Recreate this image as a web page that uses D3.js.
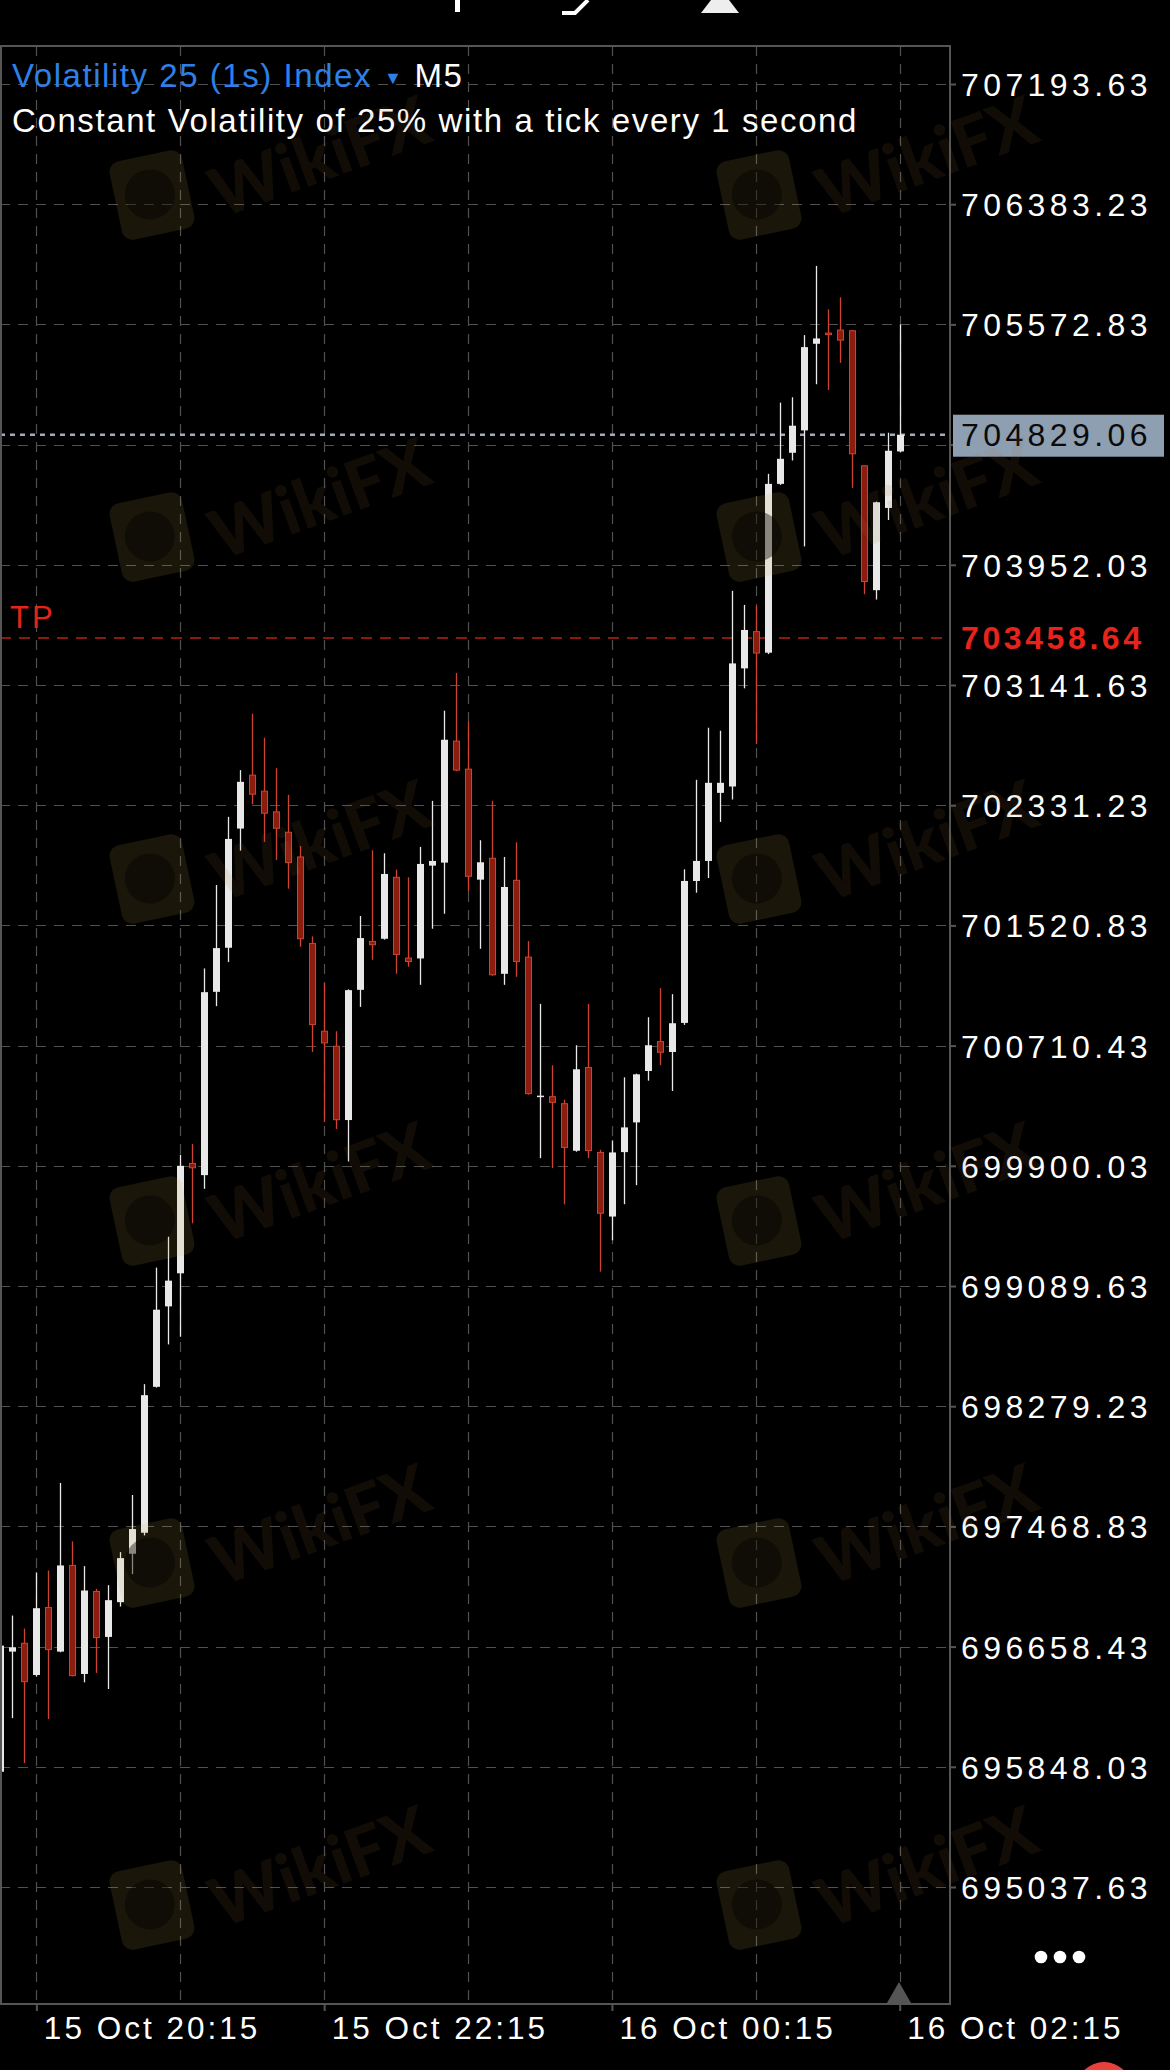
<!DOCTYPE html>
<html>
<head>
<meta charset="utf-8">
<script src="https://cdn.jsdelivr.net/npm/d3@7"></script>
<style>
  html, body { margin: 0; padding: 0; background: #000; }
  svg { display: block; }
</style>
</head>
<body>
<svg id="chart"></svg>
<script>
// M5 candles, first one at 15 Oct 20:00
const opens = [
  695814.4, 696624.7, 696681.0, 696467.1, 696921.8, 696624.7, 697205.5, 696473.9, 697029.9, 696723.8,
  696957.9, 697284.3, 697426.1, 698409.8, 698952.3, 699175.2, 699915.8, 699837.1, 701072.9, 701370.1,
  702173.7, 702533.8, 702425.8, 702286.2, 702148.9, 701982.3, 701399.3, 700807.3, 700706.0, 700208.5,
  701086.4, 701412.8, 701430.8, 701845.0, 701300.3, 701298.0, 701923.8, 701944.1, 702763.4, 702574.3,
  701829.3, 701973.3, 701194.5, 701824.8, 701307.0, 700366.1, 700366.1, 700318.8, 700001.5, 700563.0,
  699990.1, 699557.9, 699992.3, 700192.7, 700539.3, 700737.4, 700667.6, 700863.5, 701820.3, 701955.3,
  702414.5, 702457.3, 703253.8, 703501.4, 703359.4, 704497.6, 704707.3, 704858.3, 705442.1, 705514.2,
  705534.5, 705530.0, 704619.4, 703780.9, 704335.4, 704716.3
];
const highs = [
  696680.0, 696867.8, 696780.0, 697158.2, 697171.7, 697761.5, 697367.5, 697201.0, 697047.9, 697072.7,
  697295.5, 697680.4, 698427.8, 699213.4, 699422.8, 699974.3, 700046.3, 701230.5, 701793.3, 702252.5,
  702567.6, 702948.0, 702785.9, 702581.1, 702401.0, 702056.6, 701446.6, 701133.7, 700807.3, 701090.0,
  701583.9, 702027.4, 702007.1, 701896.8, 701845.0, 702049.9, 702360.5, 702968.3, 703222.6, 702894.0,
  702094.9, 702360.5, 701982.3, 702081.4, 701415.1, 700991.9, 700577.7, 700345.9, 700712.8, 700991.8,
  700008.1, 700071.1, 700496.6, 700521.0, 700901.8, 701097.6, 701057.1, 701899.0, 702502.3, 702853.5,
  702833.2, 703776.4, 703681.7, 703674.9, 704565.3, 705045.4, 705081.4, 705500.7, 705967.3, 705674.2,
  705755.4, 705535.0, 704622.0, 704378.0, 704842.5, 705572.8
];
const lows = [
  695800.0, 696176.8, 695872.9, 696455.9, 696170.0, 696620.0, 696458.0, 696417.6, 696480.7, 696372.6,
  696928.6, 697146.9, 697408.1, 698405.0, 698695.7, 698747.5, 699512.8, 699744.8, 700976.1, 701273.3,
  702025.1, 702338.0, 702083.6, 701962.1, 701768.5, 701376.8, 700667.8, 700195.0, 700147.8, 699929.4,
  700971.6, 701289.0, 701425.0, 701194.5, 701241.8, 701120.2, 701498.4, 701599.7, 702560.0, 701748.2,
  701363.3, 701181.0, 701120.2, 701174.2, 700380.0, 699951.9, 699884.4, 699640.0, 699995.0, 699951.8,
  699186.5, 699398.1, 699641.2, 699769.5, 700474.1, 700579.8, 700404.3, 700850.0, 701741.5, 701840.5,
  702218.7, 702369.5, 703119.1, 702743.2, 703350.0, 704490.9, 704655.4, 704076.1, 705169.3, 705131.0,
  705313.6, 704470.6, 703753.8, 703717.8, 704254.2, 704709.5
];
const closes = [
  696665.2, 696654.0, 696422.1, 696917.3, 696638.2, 697205.5, 696462.6, 697036.6, 696719.3, 696971.4,
  697255.0, 697450.8, 698353.6, 698929.8, 699125.7, 699900.0, 699886.5, 701070.7, 701367.8, 702103.9,
  702488.8, 702405.5, 702277.2, 702175.9, 701944.1, 701430.8, 700852.3, 700728.5, 700210.8, 701084.2,
  701435.3, 701390.3, 701867.5, 701325.0, 701277.8, 701935.1, 701955.3, 702772.4, 702567.6, 701851.8,
  701946.3, 701187.7, 701779.7, 701277.8, 700386.4, 700372.9, 700327.8, 700024.0, 700550.7, 700002.5,
  699580.4, 699990.1, 700158.9, 700516.8, 700712.7, 700665.4, 700861.2, 701820.3, 701955.3, 702482.1,
  702482.1, 703287.2, 703512.6, 703357.1, 704497.6, 704666.7, 704889.8, 705419.5, 705478.1, 705509.7,
  705466.9, 704700.5, 703839.5, 704373.7, 704720.8, 704829.06
];

const priceTicks = [
  707193.63, 706383.23, 705572.83, 704762.43, 703952.03, 703141.63, 702331.23, 701520.83,
  700710.43, 699900.03, 699089.63, 698279.23, 697468.83, 696658.43, 695848.03, 695037.63
];
const gridTimes = [
  "2023-10-15T20:15", "2023-10-15T21:15", "2023-10-15T22:15", "2023-10-15T23:15",
  "2023-10-16T00:15", "2023-10-16T01:15", "2023-10-16T02:15"
];
const labelTimes = ["2023-10-15T20:15", "2023-10-15T22:15", "2023-10-16T00:15", "2023-10-16T02:15"];
const timeTickLabels = ["15 Oct 20:15", "15 Oct 22:15", "16 Oct 00:15", "16 Oct 02:15"];

const symbolName = "Volatility 25 (1s) Index";
const timeframe = "M5";
const description = "Constant Volatility of 25% with a tick every 1 second";
const lastPrice = 704829.06;
const tpPrice = 703458.64;

// Layout
const width = 1170;
const height = 2070;
const plot = { left: 0, top: 46, right: 950, bottom: 2004 };
const labelFont = "'Liberation Sans', Arial, sans-serif";

const parseTime = d3.timeParse("%Y-%m-%dT%H:%M");
const startTime = parseTime("2023-10-15T20:00");

const candles = opens.map((o, i) => ({
  t: d3.timeMinute.offset(startTime, 5 * i),
  o: o,
  h: highs[i],
  l: lows[i],
  c: closes[i],
}));

const svg = d3
  .select("#chart")
  .attr("width", width)
  .attr("height", height)
  .style("background", "#000");

svg.append("rect").attr("width", width).attr("height", height).attr("fill", "#000");

const x = d3
  .scaleTime()
  .domain([candles[0].t, candles[candles.length - 1].t])
  .range([0.4, 899.7]);

const y = d3.scaleLinear().domain([695037.63, 707193.63]).range([1887, 84]);

svg
  .append("clipPath")
  .attr("id", "plot-clip")
  .append("rect")
  .attr("x", plot.left)
  .attr("y", plot.top)
  .attr("width", plot.right - plot.left)
  .attr("height", plot.bottom - plot.top);

const plotG = svg.append("g").attr("clip-path", "url(#plot-clip)");

// Grid
plotG
  .selectAll(".hgrid")
  .data(priceTicks)
  .join("line")
  .attr("class", "hgrid")
  .attr("x1", plot.left)
  .attr("x2", plot.right)
  .attr("y1", (d) => Math.round(y(d)) + 0.5)
  .attr("y2", (d) => Math.round(y(d)) + 0.5)
  .attr("stroke", "#505050")
  .attr("stroke-width", 1.2)
  .attr("stroke-dasharray", "10,8");

plotG
  .selectAll(".vgrid")
  .data(gridTimes.map(parseTime))
  .join("line")
  .attr("class", "vgrid")
  .attr("x1", (d) => Math.round(x(d)) + 0.5)
  .attr("x2", (d) => Math.round(x(d)) + 0.5)
  .attr("y1", plot.top)
  .attr("y2", plot.bottom)
  .attr("stroke", "#505050")
  .attr("stroke-width", 1.2)
  .attr("stroke-dasharray", "10,8");

// Take profit line and current price line
plotG
  .append("line")
  .attr("x1", plot.left)
  .attr("x2", plot.right)
  .attr("y1", y(tpPrice))
  .attr("y2", y(tpPrice))
  .attr("stroke", "#b5231c")
  .attr("stroke-width", 1.6)
  .attr("stroke-dasharray", "11,8");

plotG
  .append("line")
  .attr("x1", plot.left)
  .attr("x2", plot.right)
  .attr("y1", y(lastPrice))
  .attr("y2", y(lastPrice))
  .attr("stroke", "#a4adb8")
  .attr("stroke-width", 2.5)
  .attr("stroke-dasharray", "5,5");

plotG
  .append("text")
  .attr("x", 10)
  .attr("y", 628)
  .attr("fill", "#e3241b")
  .attr("font-family", labelFont)
  .attr("font-size", 31)
  .attr("letter-spacing", 3)
  .text("TP");

// Candles
const bodyW = 7;
const bullColor = "#e8e8e8";
const bearFill = "#8e1c0e";
const bearLine = "#cc4430";

const candleG = plotG
  .selectAll(".candle")
  .data(candles)
  .join("g")
  .attr("class", "candle");

candleG
  .append("line")
  .attr("x1", (d) => Math.round(x(d.t)) + 0.5)
  .attr("x2", (d) => Math.round(x(d.t)) + 0.5)
  .attr("y1", (d) => y(d.h))
  .attr("y2", (d) => y(d.l))
  .attr("stroke", (d) => (d.c >= d.o ? bullColor : bearLine))
  .attr("stroke-width", 1.3);

candleG
  .append("rect")
  .attr("x", (d) => Math.round(x(d.t)) + 0.5 - bodyW / 2 + (d.c >= d.o ? 0 : 0.5))
  .attr("y", (d) => y(Math.max(d.o, d.c)))
  .attr("width", (d) => (d.c >= d.o ? bodyW : bodyW - 1))
  .attr("height", (d) => Math.max(1.5, Math.abs(y(d.o) - y(d.c))))
  .attr("fill", (d) => (d.c >= d.o ? bullColor : bearFill))
  .attr("stroke", (d) => (d.c >= d.o ? "none" : bearLine))
  .attr("stroke-width", 1);

// Frame
svg
  .append("path")
  .attr("d", `M${plot.left + 1},${plot.bottom} V${plot.top} H${plot.right} V${plot.bottom} H${plot.left}`)
  .attr("fill", "none")
  .attr("stroke", "#555")
  .attr("stroke-width", 2);

// Right price axis (the label under the price tag is hidden, as in the app)
const tagClear = (v) => Math.abs(y(v) - y(lastPrice)) > 22;
const yAxis = svg
  .append("g")
  .attr("transform", `translate(${plot.right},0)`)
  .call(
    d3
      .axisRight(y)
      .tickValues(priceTicks)
      .tickFormat((d) => (tagClear(d) ? d3.format(".2f")(d) : ""))
      .tickSize(6)
      .tickPadding(5)
      .tickSizeOuter(0)
  );
yAxis.select(".domain").remove();
yAxis.selectAll(".tick line").attr("stroke", "#555").attr("stroke-width", 2);
yAxis
  .selectAll(".tick text")
  .attr("fill", "#fff")
  .attr("font-family", labelFont)
  .attr("font-size", 32)
  .attr("letter-spacing", 4.4)
  .attr("dy", "0.36em");

// Bottom time axis
const xAxis = svg
  .append("g")
  .attr("transform", `translate(0,${plot.bottom})`)
  .call(
    d3
      .axisBottom(x)
      .tickValues(labelTimes.map(parseTime))
      .tickFormat((d, i) => timeTickLabels[i])
      .tickSize(7)
      .tickSizeOuter(0)
  );
xAxis.select(".domain").remove();
xAxis.selectAll(".tick line").attr("stroke", "#555").attr("stroke-width", 2);
xAxis
  .selectAll(".tick text")
  .attr("fill", "#fff")
  .attr("font-family", labelFont)
  .attr("font-size", 31.5)
  .attr("letter-spacing", 3)
  .attr("text-anchor", "start")
  .attr("x", 7)
  .attr("y", 35)
  .attr("dy", null);

// Current price tag and TP tag
svg
  .append("rect")
  .attr("x", 953)
  .attr("y", y(lastPrice) - 20)
  .attr("width", 211)
  .attr("height", 42)
  .attr("fill", "#8e9fb2");
svg
  .append("text")
  .attr("x", 961)
  .attr("y", y(lastPrice) + 11.5)
  .attr("fill", "#0a0a0a")
  .attr("font-family", labelFont)
  .attr("font-size", 32)
  .attr("letter-spacing", 4.4)
  .text(d3.format(".2f")(lastPrice));

svg
  .append("text")
  .attr("x", 961)
  .attr("y", y(tpPrice) + 11.5)
  .attr("fill", "#e8231c")
  .attr("font-family", labelFont)
  .attr("font-weight", "bold")
  .attr("font-size", 32)
  .attr("letter-spacing", 3.6)
  .text(d3.format(".2f")(tpPrice));

// Header
const title = svg
  .append("text")
  .attr("x", 12)
  .attr("y", 87)
  .attr("font-family", labelFont)
  .attr("font-size", 33)
  .attr("letter-spacing", 1.55);
title.append("tspan").attr("fill", "#2d80e8").text(symbolName);
title.append("tspan").attr("fill", "#2d80e8").attr("font-size", 18).attr("dx", 12).attr("dy", -3).text("▼");
title.append("tspan").attr("fill", "#fff").attr("dx", 11).attr("dy", 3).text(timeframe);

svg
  .append("text")
  .attr("x", 12)
  .attr("y", 132)
  .attr("fill", "#fff")
  .attr("font-family", labelFont)
  .attr("font-size", 33)
  .attr("letter-spacing", 1.6)
  .text(description);

// WikiFX watermark over the whole screenshot
const markRows = [195, 537, 879, 1221, 1563, 1905];
const markCols = [152, 759];
const markG = svg.append("g").attr("pointer-events", "none");
markRows.forEach((ry) => {
  markCols.forEach((cx) => {
    const logo = markG.append("g").attr("transform", `translate(${cx},${ry}) rotate(-12)`);
    logo
      .append("rect")
      .attr("x", -37)
      .attr("y", -40)
      .attr("width", 74)
      .attr("height", 80)
      .attr("rx", 11)
      .attr("fill", "rgb(200,170,70)")
      .attr("opacity", 0.13);
    logo
      .append("circle")
      .attr("cx", -2)
      .attr("cy", -1)
      .attr("r", 25)
      .attr("fill", "#000")
      .attr("opacity", 0.4);
    markG
      .append("text")
      .attr("transform", `translate(${cx + 170},${ry - 32}) rotate(-20)`)
      .attr("text-anchor", "middle")
      .attr("dominant-baseline", "middle")
      .attr("font-family", "Lato, sans-serif")
      .attr("font-weight", 900)
      .attr("font-size", 68)
      .attr("fill", "rgb(160,110,60)")
      .attr("opacity", 0.11)
      .text("WikiFX");
  });
});

// Phone UI remnants
svg.append("rect").attr("x", 455).attr("y", 0).attr("width", 5).attr("height", 12).attr("fill", "#fff");
svg
  .append("path")
  .attr("d", "M588,0 L575,13 L562,13")
  .attr("fill", "none")
  .attr("stroke", "#fff")
  .attr("stroke-width", 4);
svg.append("path").attr("d", "M711,0 H729 L739,13 H701 Z").attr("fill", "#eee");

[1041, 1060, 1079].forEach((cx) => {
  svg.append("circle").attr("cx", cx).attr("cy", 1957).attr("r", 6.3).attr("fill", "#fff");
});
svg.append("path").attr("d", "M887,2003 L899,1982 L911,2003 Z").attr("fill", "#555");
svg.append("circle").attr("cx", 1104).attr("cy", 2090).attr("r", 28).attr("fill", "#e8413c");
</script>
</body>
</html>
